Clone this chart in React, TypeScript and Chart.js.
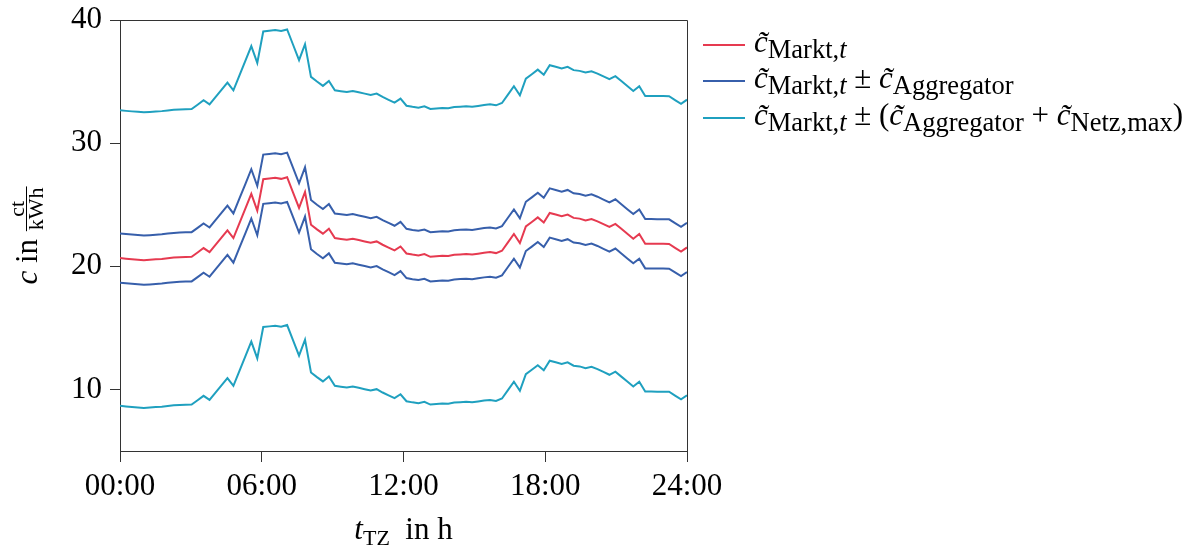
import React, { useEffect, useRef } from 'react';
import { Chart, registerables } from 'chart.js';

Chart.register(...registerables);

// ---- data ----
const X_TICK_LABELS = ['00:00', '06:00', '12:00', '18:00', '24:00'];
const Y_TICKS = [10, 20, 30, 40];

// c̃_Markt,t in ct/kWh, 96 samples over the day
const MARKT = [
  20.67, 20.62, 20.58, 20.54, 20.5, 20.53, 20.57, 20.6, 20.66, 20.71, 20.74, 20.76,
  20.77, 21.12, 21.48, 21.15, 21.74, 22.33, 22.92, 22.29, 23.49, 24.68, 25.88, 24.52,
  27.07, 27.12, 27.18, 27.1, 27.23, 25.99, 24.74, 26.04, 23.38, 23.0, 22.65, 23.05,
  22.29, 22.22, 22.16, 22.24, 22.13, 22.02, 21.91, 22.02, 21.75, 21.52, 21.29, 21.61,
  21.04, 20.95, 20.88, 20.99, 20.77, 20.81, 20.85, 20.83, 20.93, 20.96, 20.99, 20.95,
  21.02, 21.1, 21.15, 21.07, 21.26, 21.94, 22.62, 21.89, 23.24, 23.6, 23.97, 23.56,
  24.33, 24.2, 24.06, 24.2, 23.93, 23.87, 23.73, 23.84, 23.65, 23.42, 23.19, 23.44,
  23.04, 22.64, 22.24, 22.62, 21.83, 21.83, 21.82, 21.82, 21.81, 21.5, 21.2, 21.53,
];
const AGGREGATOR = 2; // c̃_Aggregator
const NETZ_MAX = 10; // c̃_Netz,max

// ---- styles ----
const RED = '#e63a50';
const BLUE = '#375fab';
const CYAN = '#1fa0bf';
const AXIS = '#333333';
const FONT = '"Liberation Serif", "Times New Roman", serif';
const BIG = 31;
const SUB = 22;
const LSUB = 26.5;

type Seg = { t: string; size: number; italic?: boolean; dy?: number };

function setFont(ctx: CanvasRenderingContext2D, s: Seg) {
  ctx.font = `${s.italic ? 'italic ' : ''}${s.size}px ${FONT}`;
}
function segsWidth(ctx: CanvasRenderingContext2D, segs: Seg[]) {
  let w = 0;
  for (const s of segs) {
    setFont(ctx, s);
    w += ctx.measureText(s.t).width;
  }
  return w;
}
function drawSegs(ctx: CanvasRenderingContext2D, segs: Seg[], x: number, y: number) {
  for (const s of segs) {
    setFont(ctx, s);
    ctx.fillText(s.t, x, y + (s.dy || 0));
    x += ctx.measureText(s.t).width;
  }
  return x;
}

const cTilde = (): Seg => ({ t: 'c\u0303', size: BIG, italic: true });
const lsub = (t: string, italic = false): Seg => ({ t, size: LSUB, italic, dy: 6 });
const MARKT_SEGS: Seg[] = [cTilde(), lsub('Markt'), lsub(','), lsub('t', true)];

const LEGEND_ROWS: { color: string; segs: Seg[] }[] = [
  { color: RED, segs: MARKT_SEGS },
  {
    color: BLUE,
    segs: [...MARKT_SEGS, { t: ' \u00b1 ', size: BIG }, cTilde(), lsub('Aggregator')],
  },
  {
    color: CYAN,
    segs: [
      ...MARKT_SEGS,
      { t: ' \u00b1 (', size: BIG },
      cTilde(),
      lsub('Aggregator'),
      { t: ' + ', size: BIG },
      cTilde(),
      lsub('Netz,max'),
      { t: ')', size: BIG },
    ],
  },
];

const decorPlugin = {
  id: 'decor',
  afterDraw(chart: any) {
    const ctx: CanvasRenderingContext2D = chart.ctx;
    const a = chart.chartArea;
    ctx.save();
    // frame top & right
    ctx.strokeStyle = AXIS;
    ctx.lineWidth = 1;
    ctx.beginPath();
    ctx.moveTo(Math.round(a.left) + 0.5, Math.round(a.top) + 0.5);
    ctx.lineTo(Math.round(a.right) + 0.5, Math.round(a.top) + 0.5);
    ctx.lineTo(Math.round(a.right) + 0.5, Math.round(a.bottom) + 0.5);
    ctx.stroke();

    ctx.fillStyle = '#000';
    ctx.textBaseline = 'alphabetic';
    ctx.textAlign = 'left';

    // x title: t_TZ in h
    const xt: Seg[] = [
      { t: 't', size: BIG, italic: true },
      { t: 'TZ', size: SUB, dy: 6 },
      { t: '  in h', size: BIG },
    ];
    const xw = segsWidth(ctx, xt);
    drawSegs(ctx, xt, (a.left + a.right) / 2 - xw / 2, 539);

    // y title: c in ct/kWh (rotated)
    const yt: Seg[] = [
      { t: 'c', size: BIG, italic: true },
      { t: ' in ', size: BIG },
    ];
    ctx.font = `${SUB}px ${FONT}`;
    const wCt = ctx.measureText('ct').width;
    const wK = ctx.measureText('kWh').width;
    const fw = Math.max(wCt, wK) + 2;
    const tw = segsWidth(ctx, yt) + fw;
    const cy = (a.top + a.bottom) / 2;
    ctx.save();
    ctx.translate(37, cy + tw / 2);
    ctx.rotate(-Math.PI / 2);
    const x = drawSegs(ctx, yt, 0, 0);
    ctx.font = `${SUB}px ${FONT}`;
    ctx.fillText('ct', x + (fw - wCt) / 2, -13);
    ctx.fillText('kWh', x + (fw - wK) / 2, 6);
    ctx.fillRect(x, -11, fw, 1);
    ctx.restore();

    // legend
    const rowsY = [52, 88, 125];
    LEGEND_ROWS.forEach((r, i) => {
      const by = rowsY[i];
      ctx.strokeStyle = r.color;
      ctx.lineWidth = 2;
      ctx.beginPath();
      ctx.moveTo(703, by - 7);
      ctx.lineTo(745, by - 7);
      ctx.stroke();
      ctx.fillStyle = '#000';
      drawSegs(ctx, r.segs, 754, by);
    });
    ctx.restore();
  },
};

export default function App() {
  const ref = useRef<HTMLCanvasElement | null>(null);
  useEffect(() => {
    if (!ref.current) return;
    const pts = (off: number) => MARKT.map((v, i) => ({ x: i, y: v + off }));
    const ds = (data: any, color: string) => ({
      data,
      borderColor: color,
      backgroundColor: color,
      borderWidth: 2,
      pointRadius: 0,
      tension: 0,
      fill: false,
    });
    const tickFont = { family: FONT, size: BIG };
    const chart = new Chart(ref.current, {
      type: 'line',
      data: {
        datasets: [
          ds(pts(AGGREGATOR + NETZ_MAX), CYAN),
          ds(pts(-(AGGREGATOR + NETZ_MAX)), CYAN),
          ds(pts(AGGREGATOR), BLUE),
          ds(pts(-AGGREGATOR), BLUE),
          ds(pts(0), RED),
        ],
      },
      options: {
        animation: false,
        responsive: false,
        layout: { padding: { left: 0, top: 20, right: 1195 - 687, bottom: 0 } },
        plugins: { legend: { display: false }, tooltip: { enabled: false } },
        scales: {
          x: {
            type: 'linear',
            min: 0,
            max: MARKT.length - 1,
            afterBuildTicks: (s: any) => {
              s.ticks = X_TICK_LABELS.map((_, i) => ({
                value: (i * (MARKT.length - 1)) / (X_TICK_LABELS.length - 1),
              }));
            },
            afterFit: (s: any) => {
              s.height = 96;
              s.paddingLeft = 0;
              s.paddingRight = 0;
            },
            ticks: {
              callback: (_v: any, i: number) => X_TICK_LABELS[i],
              font: tickFont,
              color: '#000',
              padding: 6,
              maxRotation: 0,
              autoSkip: false,
            },
            grid: { drawOnChartArea: false, drawTicks: true, tickLength: 11, tickColor: AXIS },
            border: { color: AXIS, width: 1 },
          },
          y: {
            min: 5,
            max: 40,
            afterBuildTicks: (s: any) => {
              s.ticks = Y_TICKS.map((v) => ({ value: v }));
            },
            afterFit: (s: any) => {
              s.width = 120;
              s.paddingTop = 0;
              s.paddingBottom = 0;
            },
            ticks: {
              callback: (v: any) => String(v),
              font: tickFont,
              color: '#000',
              padding: 8,
            },
            grid: { drawOnChartArea: false, drawTicks: true, tickLength: 10, tickColor: AXIS },
            border: { color: AXIS, width: 1 },
          },
        },
      } as any,
      plugins: [decorPlugin],
    });
    return () => chart.destroy();
  }, []);
  return (
    <div style={{ position: 'fixed', left: 0, top: 0, width: 1195, height: 547, background: '#fff' }}>
      <canvas ref={ref} width={1195} height={547} style={{ display: 'block' }} />
    </div>
  );
}
